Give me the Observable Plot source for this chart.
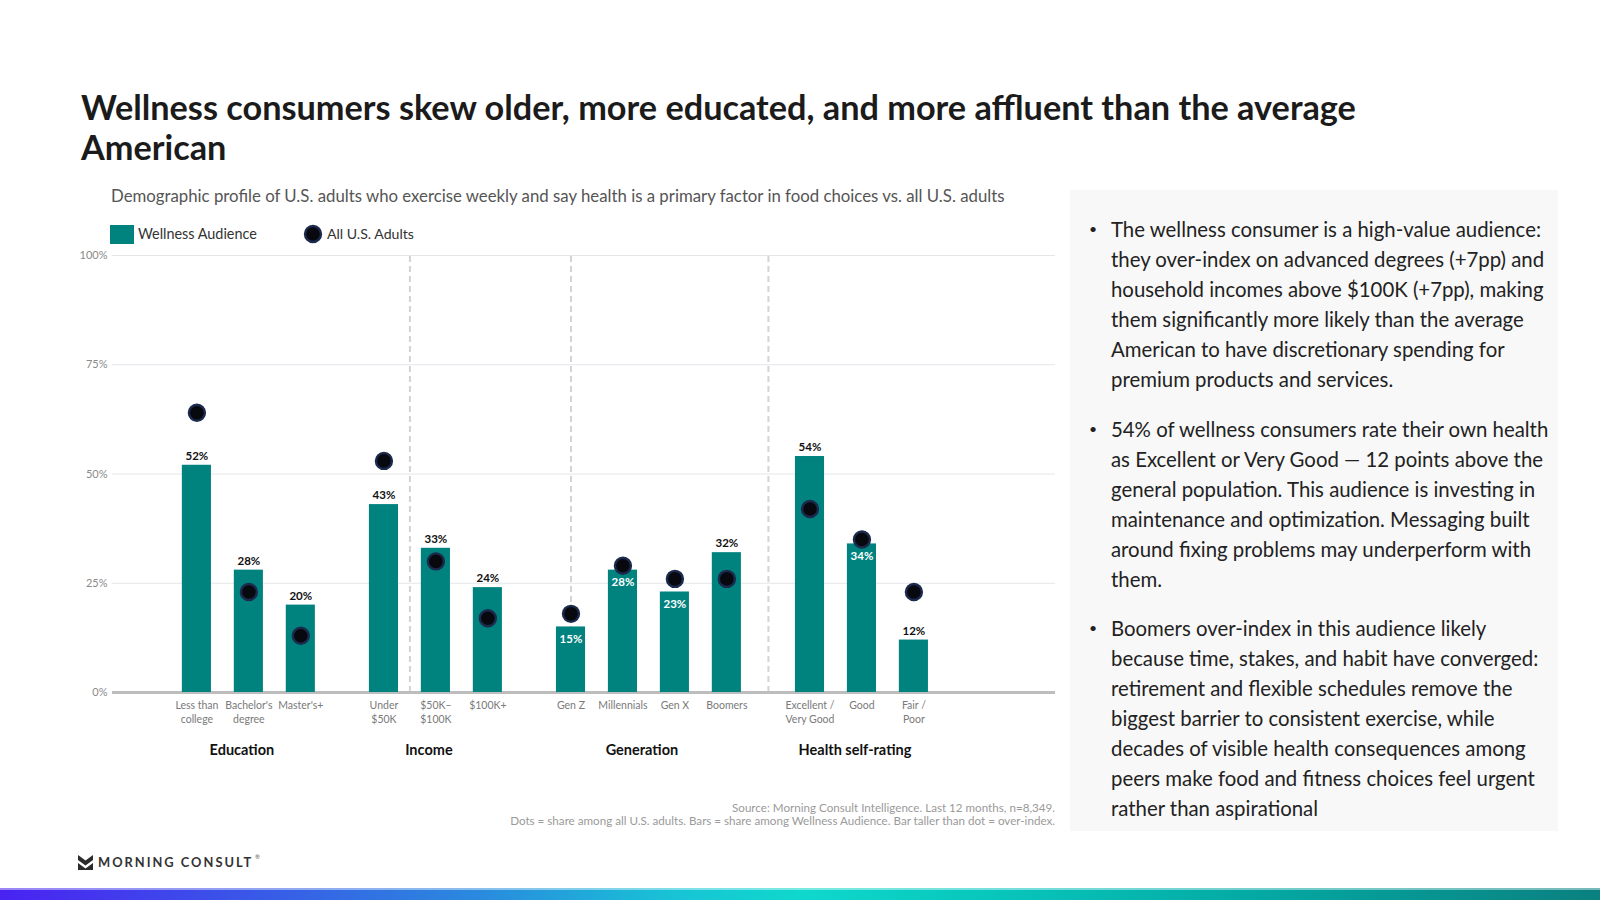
<!DOCTYPE html>
<html>
<head>
<meta charset="utf-8">
<script src="https://cdn.jsdelivr.net/npm/d3@7"></script>
<script src="https://cdn.jsdelivr.net/npm/@observablehq/plot@0.6"></script>
<style>
  html, body { margin: 0; padding: 0; }
  body { width: 1600px; height: 900px; position: relative; background: #fff; overflow: hidden;
         font-family: Lato, "Noto Sans", sans-serif; }
  .abs { position: absolute; white-space: nowrap; }
  .line { display: block; }
  .fit { display: inline-block; }
  #title { left: 81px; top: 87px; font-weight: 700; font-size: 29px; line-height: 40px; color: #1b1b1b; }
  #subtitle { left: 111px; top: 187px; font-size: 15px; line-height: 18px; color: #555; }
  .legtext { font-size: 14px; line-height: 18px; color: #333; top: 225px; }
  #chart { left: 0; top: 240px; }
  #panel { left: 1070px; top: 190px; width: 488px; height: 641px; background: #f8f8f8; }
  .para { left: 1111px; font-size: 19.5px; line-height: 30px; color: #222; }
  .bullet { left: 1089px; font-size: 14px; line-height: 30px; color: #222; }
  #footer { right: 545px; top: 802px; text-align: right; font-size: 10px; line-height: 12.5px; color: #9a9a9a; }
  #logo { left: 98px; top: 854px; font-weight: 700; font-size: 13px; line-height: 16px; letter-spacing: 2px; color: #333; }
  #strip { left: 0; top: 888px; width: 1600px; height: 12px;
           background: linear-gradient(90deg, #4a22f2 0%, #3a55e8 15%, #2a8ade 30%, #18c3d6 42%, #0fd8cc 50%, #08c6bc 62%, #04aaa4 78%, #0a8080 100%); }
  #stripTop { left: 0; top: 888px; width: 1600px; height: 2px; background: rgba(255,255,255,0.45); }
</style>
</head>
<body>
<div id="title" class="abs"><span class="line"><span class="fit" id="titleL1">Wellness consumers skew older, more educated, and more affluent than the average</span></span><span class="line">American</span></div>
<div id="subtitle" class="abs"><span class="fit" id="subFit">Demographic profile of U.S. adults who exercise weekly and say health is a primary factor in food choices vs. all U.S. adults</span></div>

<div class="abs" style="left:110px;top:225px;width:24px;height:19px;background:#00827f;"></div>
<div class="abs legtext" style="left:138px;"><span class="fit" id="leg1">Wellness Audience</span></div>
<svg class="abs" style="left:302px;top:223px;" width="22" height="22"><circle cx="11" cy="11" r="8" fill="#08080f" stroke="#1b2a4d" stroke-width="2.4"></circle></svg>
<div class="abs legtext" style="left:327px;"><span class="fit" id="leg2">All U.S. Adults</span></div>

<div id="chart" class="abs"></div>

<div id="panel" class="abs"></div>
<div id="paras"></div>

<div id="footer" class="abs"><span class="line">Source: Morning Consult Intelligence. Last 12 months, n=8,349.</span><span class="line"><span class="fit" id="footFit">Dots = share among all U.S. adults. Bars = share among Wellness Audience. Bar taller than dot = over-index.</span></span></div>

<svg class="abs" style="left:78px;top:855px;" width="15" height="15" viewBox="0 0 15 15">
  <polygon points="0,0 7.5,5.5 15,0 15,5 7.5,10.5 0,5" fill="#2b2b2b"></polygon>
  <polygon points="0,8 7.5,13.5 15,8 15,15 0,15" fill="#2b2b2b"></polygon>
</svg>
<div id="logo" class="abs"><span class="fit" id="logoFit">MORNING CONSULT</span></div>
<div class="abs" style="left:255px;top:853px;font-size:6px;color:#555;">®</div>

<div id="strip" class="abs"></div>
<div id="stripTop" class="abs"></div>

<script>
// ---------------- DATA ----------------
const categories = ["Less than college", "Bachelor's degree", "Master's+", "Under $50K", "$50K–$100K", "$100K+",
  "Gen Z", "Millennials", "Gen X", "Boomers", "Excellent / Very Good", "Good", "Fair / Poor"];
const tickLabels = [["Less than", "college"], ["Bachelor's", "degree"], ["Master's+"], ["Under", "$50K"], ["$50K–", "$100K"], ["$100K+"],
  ["Gen Z"], ["Millennials"], ["Gen X"], ["Boomers"], ["Excellent /", "Very Good"], ["Good"], ["Fair /", "Poor"]];
const groupOf = ["Education", "Education", "Education", "Income", "Income", "Income",
  "Generation", "Generation", "Generation", "Generation", "Health self-rating", "Health self-rating", "Health self-rating"];
const groupNames = ["Education", "Income", "Generation", "Health self-rating"];
const wellnessAudience = [52, 28, 20, 43, 33, 24, 15, 28, 23, 32, 54, 34, 12];
const allUSAdults = [64, 23, 13, 53, 30, 17, 18, 29, 26, 26, 42, 35, 23];
const yTicks = [0, 25, 50, 75, 100];
// dashed separators, each drawn midway between the two named categories
const separators = [["Under $50K", "$50K–$100K"], ["Gen Z", "Gen Z"], ["Boomers", "Excellent / Very Good"]];

const bullets = [
  ["The wellness consumer is a high-value audience:", "they over-index on advanced degrees (+7pp) and", "household incomes above $100K (+7pp), making",
   "them significantly more likely than the average", "American to have discretionary spending for", "premium products and services."],
  ["54% of wellness consumers rate their own health", "as Excellent or Very Good — 12 points above the", "general population. This audience is investing in",
   "maintenance and optimization. Messaging built", "around fixing problems may underperform with", "them."],
  ["Boomers over-index in this audience likely", "because time, stakes, and habit have converged:", "retirement and flexible schedules remove the",
   "biggest barrier to consistent exercise, while", "decades of visible health consequences among", "peers make food and fitness choices feel urgent",
   "rather than aspirational"]
];

(function () {
// ---------------- TEXT FITTING ----------------
function fit(id, target, el) {
  const span = document.getElementById(id);
  const box = el || span;
  const w = span.getBoundingClientRect().width;
  const fs = parseFloat(getComputedStyle(box).fontSize);
  box.style.fontSize = (fs * target / w) + "px";
}
fit("titleL1", 1275, document.getElementById("title"));
fit("subFit", 894, document.getElementById("subtitle"));
fit("footFit", 546, document.getElementById("footer"));
fit("logoFit", 155, document.getElementById("logo"));
fit("leg1", 119);
fit("leg2", 87);

// bullets panel
const parasDiv = document.getElementById("paras");
let yPos = 214;
bullets.forEach((lines, i) => {
  const b = document.createElement("div");
  b.className = "abs bullet"; b.style.top = yPos + "px"; b.textContent = "•";
  const p = document.createElement("div");
  p.className = "abs para"; p.style.top = yPos + "px";
  lines.forEach((l, j) => {
    const s = document.createElement("span"); s.className = "line";
    const f = document.createElement("span"); f.className = "fit"; f.textContent = l;
    if (i === 0 && j === 0) f.id = "paraFit";
    s.appendChild(f); p.appendChild(s);
  });
  parasDiv.appendChild(b); parasDiv.appendChild(p);
  yPos += lines.length * 30 + 19.5;
});
{
  const f = document.getElementById("paraFit");
  const w = f.getBoundingClientRect().width;
  const ns = 19.5 * 430 / w;
  document.querySelectorAll(".para").forEach(p => p.style.fontSize = ns + "px");
}

// ---------------- CHART ----------------
const rows = categories.map((c, i) => ({cat: c, label: tickLabels[i], group: groupOf[i], w: wellnessAudience[i], a: allUSAdults[i]}));
const groupGap = 0.6;
rows.forEach((r, i) => { r.slot = i + groupGap * groupNames.indexOf(r.group); });
const slotOf = c => rows.find(r => r.cat === c).slot;
const sepSlots = separators.map(([a, b]) => (slotOf(a) + slotOf(b)) / 2);
const groupPos = groupNames.map(g => ({g, slot: d3.mean(rows.filter(r => r.group === g), r => r.slot)}));
rows.forEach(r => { r.inside = r.a > r.w && r.a - r.w < 6; });
const half = 0.28;

const chart = Plot.plot({
  width: 1070, height: 530,
  marginLeft: 112, marginRight: 15, marginTop: 15, marginBottom: 78,
  x: {type: "linear", domain: [rows[0].slot, rows[rows.length - 1].slot], insetLeft: 84.4, insetRight: 141.6, axis: null},
  y: {domain: [0, 100], axis: null},
  style: {fontFamily: "Lato, 'Noto Sans', sans-serif", background: "transparent", overflow: "visible"},
  marks: [
    Plot.ruleY(yTicks.filter(t => t > 0), {stroke: "#e4e6ea", strokeWidth: 1}),
    Plot.axisY({ticks: yTicks, tickFormat: d => d + "%", tickSize: 0, tickPadding: 5, fontSize: 11, color: "#8a8a8a", label: null}),
    Plot.ruleX(sepSlots, {x: d => d, y1: 0, y2: 100, stroke: "#d3d3d3", strokeWidth: 2, strokeDasharray: "6,4"}),
    Plot.ruleY([0], {stroke: "#bdbdbd", strokeWidth: 3}),
    Plot.rectY(rows, {x1: d => d.slot - half, x2: d => d.slot + half, y1: 0, y2: "w", fill: "#00827f"}),
    Plot.dot(rows, {x: "slot", y: "a", r: 8, fill: "#08080f", stroke: "#1b2a4d", strokeWidth: 2.4}),
    Plot.text(rows.filter(r => !r.inside), {x: "slot", y: "w", text: d => d.w + "%", dy: -9, fontWeight: 700, fontSize: 11.5, fill: "#111"}),
    Plot.text(rows.filter(r => r.inside), {x: "slot", y: "w", text: d => d.w + "%", dy: 12, fontWeight: 700, fontSize: 11.5, fill: "#fff"}),
    Plot.text(rows, {x: "slot", y: 0, text: d => d.label.join("\n"), lineAnchor: "top", dy: 7, fontSize: 10.5, lineHeight: 1.32, fill: "#7a7a7a"}),
    Plot.text(groupPos, {x: "slot", y: 0, text: "g", dy: 58, dx: -7, fontWeight: 700, fontSize: 14.5, fill: "#111"})
  ]
});
document.getElementById("chart").appendChild(chart);
})();
</script>
</body>
</html>
